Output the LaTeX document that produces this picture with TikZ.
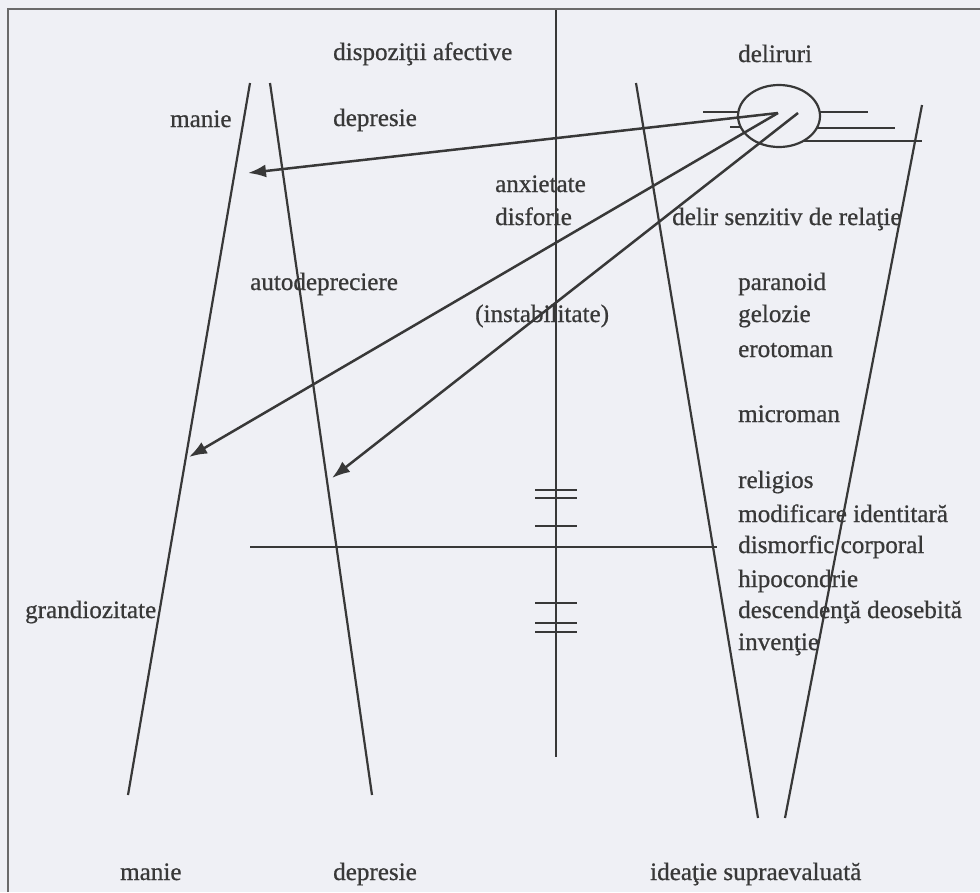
\documentclass[tikz,border=0pt]{standalone}
\usepackage{fontspec}
\setmainfont{Liberation Serif}[FakeBold=0.7]
\usetikzlibrary{arrows.meta,shapes.geometric}
\definecolor{ink}{HTML}{383838}
\definecolor{paper}{HTML}{EFF0F5}
\definecolor{framec}{HTML}{6A6A6A}
\tikzset{
  lbl/.style={anchor=base west, inner sep=0pt, font=\fontsize{25.1}{30}\selectfont, text=ink},
  thin line/.style={draw=ink, line width=2.2pt},
  tick/.style={draw=ink, line width=2.2pt},
  arr/.style={draw=ink, line width=2.5pt, -{Latex[length=18pt,width=13pt]}},
}
\begin{document}
\begin{tikzpicture}[x=1pt,y=-1pt]
\useasboundingbox (0,0) rectangle (980,892);
\fill[paper] (0,0) rectangle (980,892);
\draw[framec, line width=1.6pt] (8,892) -- (8,9) -- (980,9);

% named points
\coordinate (L1t) at (250,83);  \coordinate (L1b) at (128,795);
\coordinate (L2t) at (270,83);  \coordinate (L2b) at (372,795);
\coordinate (R1t) at (636,83);  \coordinate (R1b) at (758,818);
\coordinate (R2t) at (922,105); \coordinate (R2b) at (785,818);
\coordinate (Vt) at (556,10);   \coordinate (Vb) at (556,757);
\coordinate (Hl) at (250,547);  \coordinate (Hr) at (717,547);

% funnels, axis, baseline
\draw[thin line] (L1t) -- (L1b);
\draw[thin line] (L2t) -- (L2b);
\draw[thin line] (R1t) -- (R1b);
\draw[thin line] (R2t) -- (R2b);
\draw[thin line] (Vt) -- (Vb);
\draw[thin line] (Hl) -- (Hr);

% ticks on the axis
\foreach \yy in {490,498,526,603,623,632}
  \draw[tick] (535,\yy) -- (577,\yy);

% ellipse with its lines
\node[draw=ink, line width=2.2pt, ellipse, minimum width=82pt, minimum height=62pt, inner sep=0pt] (ell) at (779,116) {};
\draw[thin line] (703,112) -- (738,112);
\draw[thin line] (730,127) -- (741,127);
\draw[thin line] (820,112) -- (868,112);
\draw[thin line] (817,128) -- (895,128);
\draw[thin line] (803,141) -- (922,141);

% arrows
\coordinate (e1) at (778,113);
\coordinate (e2) at (798,113);
\coordinate (a1) at (248,173);
\coordinate (a2) at (189,457);
\coordinate (a3) at (332,478);
\draw[arr] (e1) -- (a1);
\draw[arr] (e1) -- (a2);
\draw[arr] (e2) -- (a3);

% labels
\node[lbl] (t1) at (333,60) {dispoziţii afective};
\node[lbl] (t2) at (738,62) {deliruri};
\node[lbl] (t3) at (170,127) {manie};
\node[lbl] (t4) at (333,126) {depresie};
\node[lbl] (t5) at (495,192) {anxietate};
\node[lbl] (t6) at (495,225) {disforie};
\node[lbl] (t7) at (672,225) {delir senzitiv de relaţie};
\node[lbl] (t8) at (250,290) {autodepreciere};
\node[lbl] (t9) at (475,322) {(instabilitate)};
\node[lbl] (t10) at (738,290) {paranoid};
\node[lbl] (t11) at (738,322) {gelozie};
\node[lbl] (t12) at (738,357) {erotoman};
\node[lbl] (t13) at (738,422) {microman};
\node[lbl] (t14) at (738,488) {religios};
\node[lbl] (t15) at (738,522) {modificare identitară};
\node[lbl] (t16) at (738,553) {dismorfic corporal};
\node[lbl] (t17) at (738,587) {hipocondrie};
\node[lbl] (t18) at (738,618) {descendenţă deosebită};
\node[lbl] (t19) at (738,650) {invenţie};
\node[lbl] (t20) at (25,618) {grandiozitate};
\node[lbl] (t21) at (120,880) {manie};
\node[lbl] (t22) at (333,880) {depresie};
\node[lbl] (t23) at (650,880) {ideaţie supraevaluată};
\end{tikzpicture}
\end{document}
